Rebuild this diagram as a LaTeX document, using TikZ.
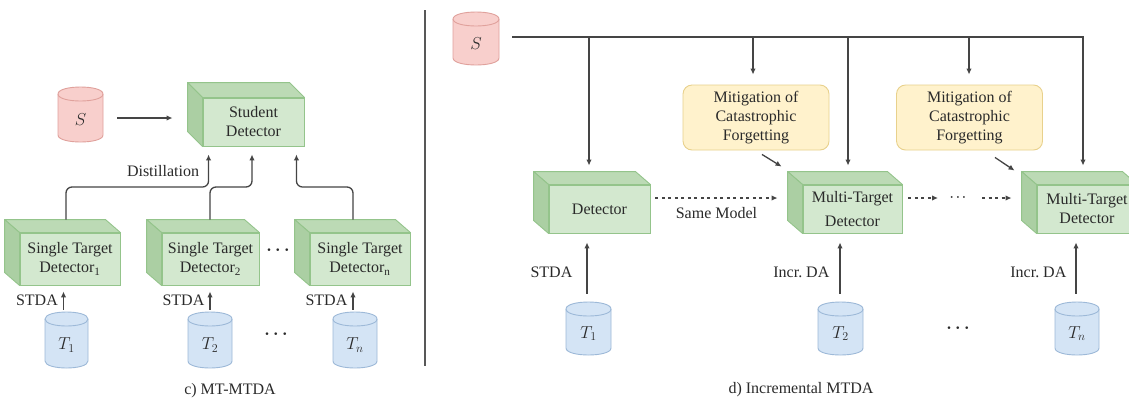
\documentclass[tikz,border=0pt]{standalone}
\usepackage{fontspec}
\setmainfont{Liberation Serif}
\usetikzlibrary{arrows.meta,calc}

\definecolor{ink}{HTML}{454545}
\definecolor{txt}{HTML}{2A2A2A}
\definecolor{cubeface}{HTML}{D3E8CF}
\definecolor{cubetop}{HTML}{BCDAB5}
\definecolor{cubeside}{HTML}{ABCFA3}
\definecolor{cubeedge}{HTML}{94C48B}
\definecolor{yface}{HTML}{FFF2CC}
\definecolor{yedge}{HTML}{E8D18C}
\definecolor{pinkface}{HTML}{F8CFCC}
\definecolor{pinkedge}{HTML}{E0A19C}
\definecolor{blueface}{HTML}{D4E4F5}
\definecolor{blueedge}{HTML}{9DB9D8}

\tikzset{
  every node/.style={text=txt},
  cubefront/.style={draw=cubeedge, fill=cubeface, line width=0.9, inner sep=0, align=center},
  cubetopface/.style={draw=cubeedge, fill=cubetop, line width=0.9, line join=round},
  cubesideface/.style={draw=cubeedge, fill=cubeside, line width=0.9, line join=round},
  pinkcyl/.style={fill=pinkface, draw=pinkedge, line width=0.9},
  bluecyl/.style={fill=blueface, draw=blueedge, line width=0.9},
  wire/.style={draw=ink, line width=1.3},
  arr/.style={wire, -{Latex[length=6pt,width=5.5pt]}},
  dotarr/.style={arr, dash pattern=on 3pt off 3.5pt},
  mitig/.style={draw=yedge, fill=yface, rounded corners=9, line width=0.9,
    minimum width=146, minimum height=65, align=center},
  lbl/.style={inner sep=1},
  bigdots/.style={font=\fontsize{16}{19}\selectfont\boldmath},
  smalldots/.style={font=\fontsize{13}{15}\selectfont\boldmath},
}

% detector drawn as a box: front face node plus top and left faces
\newcommand\detbox[7]{% name, x, y, width, height, depth, text
  \node[cubefront, minimum width=#4, minimum height=#5] (#1) at (#2,#3) {#7};
  \path[cubetopface] (#1.north west) -- (#1.north east) -- ++(-15,-#6)
    -- ($(#1.north west)+(-15,-#6)$) -- cycle;
  \path[cubesideface] (#1.north west) -- ++(-15,-#6)
    -- ($(#1.south west)+(-15,-#6)$) -- (#1.south west) -- cycle;
}

% dataset drawn as a cylinder
\newcommand\dbcyl[7]{% name, cx, cy, width, height, style, label
  \pgfmathsetmacro\cyLx{#2-#4/2}\pgfmathsetmacro\cyRx{#2+#4/2}%
  \pgfmathsetmacro\cyTy{#3-#5/2+7}\pgfmathsetmacro\cyBy{#3+#5/2-7}%
  \pgfmathsetmacro\cyTu{\cyTy-9.33}\pgfmathsetmacro\cyTd{\cyTy+9.33}%
  \pgfmathsetmacro\cyBd{\cyBy+9.33}%
  \path[#6] (\cyLx,\cyTy) -- (\cyLx,\cyBy)
    .. controls (\cyLx,\cyBd) and (\cyRx,\cyBd) .. (\cyRx,\cyBy)
    -- (\cyRx,\cyTy)
    .. controls (\cyRx,\cyTu) and (\cyLx,\cyTu) .. (\cyLx,\cyTy) -- cycle;
  \path[#6, fill=none] (\cyLx,\cyTy)
    .. controls (\cyLx,\cyTd) and (\cyRx,\cyTd) .. (\cyRx,\cyTy);
  \node[minimum width=#4, minimum height=#5, inner sep=0] (#1) at (#2,#3) {};
  \node[font=\fontsize{17}{19}\selectfont] at (#2,{#3+5}) {#7};
}

\begin{document}
\begin{tikzpicture}[x=1pt, y=-1pt, font=\fontsize{16}{19}\selectfont]
\clip (0,0) rectangle (1129,400);
\fill[white] (0,0) rectangle (1129,400);

% ---------------- c) MT-MTDA ----------------
\dbcyl{sL}{80.5}{114.5}{45}{55}{pinkcyl}{$S$}
\detbox{sd}{253.5}{122}{101}{48}{15}{Student\\Detector}
\draw[arr] ($(sL.east)+(14,3.5)$) -- ($(sd.west)+(-30,-4)$);

\detbox{st1}{70}{259}{100}{52}{13}{Single Target\\Detector\textsubscript{1}}
\detbox{st2}{210.5}{259}{97}{52}{13}{Single Target\\Detector\textsubscript{2}}
\detbox{stn}{360}{259}{100}{52}{13}{Single Target\\Detector\textsubscript{n}}
\node[bigdots] (dotsA) at (278,250) {$\cdots$};

% distillation links
\coordinate (dl) at (0,187);
\coordinate (o1) at ($(st1.north)+(-4,-13)$);
\coordinate (o2) at ($(st2.north)+(-0.5,-13)$);
\coordinate (on) at ($(stn.north)+(-7,-13)$);
\coordinate (i1) at ($(sd.south west)+(6,8)$);
\coordinate (i2) at ($(sd.south)+(-1.5,8)$);
\coordinate (in) at ($(sd.south east)+(-8,8)$);
\draw[arr, rounded corners=6] (o1) -- (o1 |- dl) -| (i1);
\draw[arr, rounded corners=6] (o2) -- (o2 |- dl) -| (i2);
\draw[arr, rounded corners=6] (on) -- (on |- dl) -| (in);
\node (distl) at (163,171) {Distillation};

% target datasets
\dbcyl{t1}{66.5}{340}{43}{56}{bluecyl}{$T_1$}
\dbcyl{t2}{210}{340}{44}{56}{bluecyl}{$T_2$}
\dbcyl{tn}{355}{340}{44}{56}{bluecyl}{$T_n$}
\node[bigdots] (dotsB) at (276,334) {$\cdots$};

\coordinate (a1) at ($(t1.north)+(-3,-2)$);
\coordinate (a2) at ($(t2.north)+(0,-2)$);
\coordinate (an) at ($(tn.north)+(-2,-2)$);
\draw[arr] (a1) -- node[lbl, left=4pt] {STDA} ($(a1 |- st1.south)+(0,6)$);
\draw[arr] (a2) -- node[lbl, left=4pt] {STDA} ($(a2 |- st2.south)+(0,6)$);
\draw[arr] (an) -- node[lbl, left=4pt] {STDA} ($(an |- stn.south)+(0,6)$);

\node (capc) at (230,391) {c) MT-MTDA};

% separator
\draw[wire, draw=ink!90] (425,10) -- (425,366);

% ---------------- d) Incremental MTDA ----------------
\dbcyl{sR}{476}{38.5}{46}{53}{pinkcyl}{$S$}
\detbox{det}{599.5}{209}{101}{48}{13}{Detector}
\detbox{mt1}{852.5}{209}{99}{48}{13}{Multi-Target\\[5pt]Detector}
\detbox{mt2}{1087}{209}{100}{48}{13}{Multi-Target\\Detector}
\node[mitig] (m1) at (756,117.5) {Mitigation of\\Catastrophic\\Forgetting};
\node[mitig] (m2) at (969.5,117.5) {Mitigation of\\Catastrophic\\Forgetting};

% source feed
\coordinate (bus) at ($(sR.east)+(13,-1.5)$);
\coordinate (detin) at ($(det.north)+(-10.5,-19)$);
\coordinate (mt1in) at ($(mt1.north)+(-4.5,-19)$);
\coordinate (mt2in) at ($(mt2.north)+(-4,-19)$);
\coordinate (m1in) at ($(m1.north)+(-3,-10)$);
\coordinate (m2in) at ($(m2.north)+(-0.5,-10)$);
\draw[arr] (bus) -| (mt2in);
\draw[arr] (bus -| detin) -- (detin);
\draw[arr] (bus -| mt1in) -- (mt1in);
\draw[arr] (bus -| m1in) -- (m1in);
\draw[arr] (bus -| m2in) -- (m2in);

\draw[arr] ($(m1.south)+(6,4)$) -- ($(mt1.north west)+(-21,-18)$);
\draw[arr] ($(m2.south)+(25.5,7)$) -- ($(mt2.north west)+(-22,-14)$);

% model hand-over
\draw[dotarr] ($(det.east)+(5,-11)$) -- node[lbl, below=8pt] {Same Model} ($(mt1.west)+(-25,-11)$);
\node[smalldots] (dotsC) at (958,198) {$\cdots$};
\draw[dotarr] ($(mt1.east)+(6,-11)$) -- ($(dotsC.center)+(-20,0)$);
\draw[dotarr] ($(dotsC.center)+(24,0)$) -- ($(mt2.west)+(-25,-11)$);

% target datasets
\dbcyl{t1R}{588.5}{328.5}{45}{53}{bluecyl}{$T_1$}
\dbcyl{t2R}{840.5}{328.5}{45}{53}{bluecyl}{$T_2$}
\dbcyl{tnR}{1077}{328.5}{44}{53}{bluecyl}{$T_n$}
\node[bigdots] (dotsD) at (958,328) {$\cdots$};

\coordinate (b1) at ($(t1R.north)+(-1.5,-8)$);
\coordinate (b2) at ($(t2R.north)+(-0.5,-8)$);
\coordinate (bn) at ($(tnR.north)+(-1,-8)$);
\draw[arr] (b1) -- node[lbl, pos=0.42, left=13pt] {STDA} ($(b1 |- det.south)+(0,9)$);
\draw[arr] (b2) -- node[lbl, pos=0.42, left=9pt] {Incr.\ DA} ($(b2 |- mt1.south)+(0,9)$);
\draw[arr] (bn) -- node[lbl, pos=0.42, left=8pt] {Incr.\ DA} ($(bn |- mt2.south)+(0,9)$);

\node (capd) at (801,390) {d) Incremental MTDA};
\end{tikzpicture}
\end{document}
